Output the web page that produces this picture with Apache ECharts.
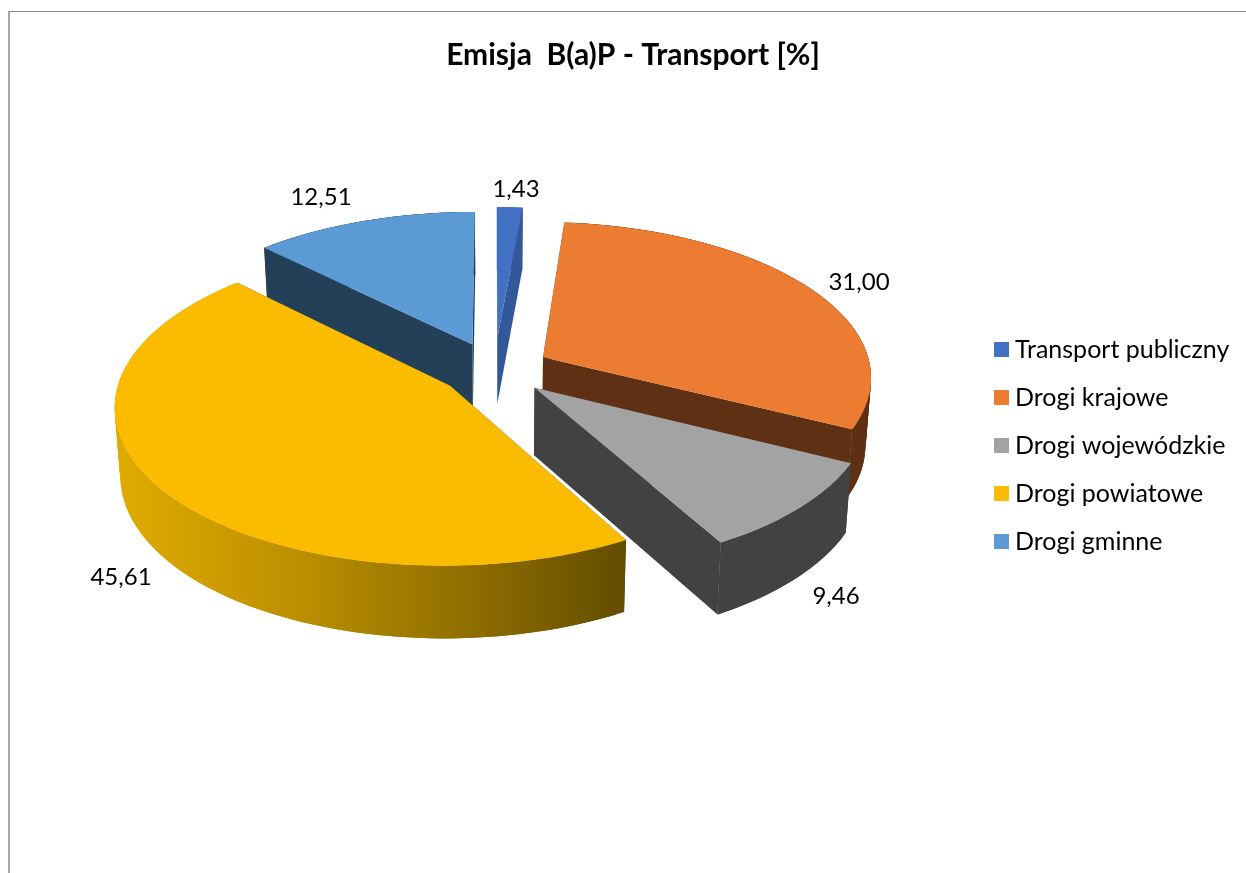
<!DOCTYPE html>
<html><head><meta charset="utf-8">
<style>html,body{margin:0;padding:0;background:#fff}#c{width:1246px;height:873px}</style>
<script src="https://cdn.jsdelivr.net/npm/echarts@6/dist/echarts.min.js"></script>
</head><body><div id="c"></div>
<script>
const categories = ['Transport publiczny','Drogi krajowe','Drogi wojewódzkie','Drogi powiatowe','Drogi gminne'];
const values = [1.43, 31.00, 9.46, 45.61, 12.51];
const valueLabels = ['1,43','31,00','9,46','45,61','12,51'];
const topColors = ['#4270c2','#ec7c31','#a3a3a3','#fbbc00','#5b9ad5'];
const wallColors = ['#33589a','#5f3013','#424242','#424242','#234058'];
const explode = [74, 52, 54, 58, 60];
const nudge = [[-3,2],[1,-1],[-2,0],[0,-1],[-2,0]];
const paintOrder = [1, 3, 4, 5, 2];
const labelPos = [[516,189],[859,282],[836,596],[121,577],[321,197]];

const CX = 497, CY = 370, R = 328, K = 0.47, P = 0.12;
const total = values.reduce((a,b)=>a+b,0);
function slice(i){
  let a0 = 0; for(let j=0;j<i;j++) a0 += values[j]/total*2*Math.PI;
  return [a0, a0 + values[i]/total*2*Math.PI];
}
function project(i, rad, ang, lower){
  const [a0,a1] = slice(i), m = (a0+a1)/2, e = explode[i];
  const wx = e*Math.sin(m) + rad*Math.sin(ang);
  const wv = -e*Math.cos(m) - rad*Math.cos(ang);
  const s = 1/(1 - P*wv/R);
  let x = CX + wx*s + nudge[i][0], y = CY + K*wv*s + nudge[i][1];
  if(lower){ y += 30 + 37*s; x = CX + (x-CX)*0.985; }
  return [x,y];
}
function renderSlice(i){
  const [a0,a1] = slice(i);
  const n = Math.max(6, Math.ceil((a1-a0)*40));
  const arcT = [], arcB = [];
  for(let k=0;k<=n;k++){
    const a = a0+(a1-a0)*k/n;
    arcT.push(project(i,R,a,false)); arcB.push(project(i,R,a,true));
  }
  const apexT = project(i,0,0,false), apexB = project(i,0,0,true);
  const rimFill = i===3 ? {type:'linear',x:116,y:0,x2:623,y2:0,global:true,colorStops:[
      {offset:0,color:'#e0ab00'},{offset:0.35,color:'#bd9000'},{offset:0.7,color:'#8f6e00'},{offset:1,color:'#644d00'}]}
    : wallColors[i];
  const poly = (pts,fill)=>({type:'polygon',shape:{points:pts},style:{fill:fill},silent:true});
  const children = [
    poly([apexT,arcT[0],arcB[0],apexB],wallColors[i]),
    poly([apexT,arcT[n],arcB[n],apexB],wallColors[i])
  ];
  for(let k=0;k<n;k++){
    const j = Math.min(k+2,n);
    children.push(poly([arcT[k],arcT[j],arcB[j],arcB[k]],rimFill));
  }
  children.push(poly([apexT].concat(arcT),topColors[i]));
  children.push({type:'text',style:{text:valueLabels[i],x:labelPos[i][0],y:labelPos[i][1],align:'center',verticalAlign:'middle',
      font:'24px Lato, sans-serif',fill:'#000'},silent:true});
  return {type:'group',children:children};
}
const chart = echarts.init(document.getElementById('c'),null,{renderer:'canvas'});
chart.setOption({
  animation:false,
  backgroundColor:'#fff',
  title:{text:'Emisja  B(a)P - Transport [%]',left:628,top:35,textAlign:'center',
    textStyle:{fontFamily:'Lato',fontWeight:'bold',fontSize:30,color:'#000'}},
  legend:{orient:'vertical',left:989,top:332,itemWidth:15,itemHeight:15,itemGap:23,icon:'rect',selectedMode:false,
    data:categories,textStyle:{fontFamily:'Lato',fontSize:25,color:'#000',padding:[0,0,0,1]}},
  graphic:[
    {type:'line',shape:{x1:9,y1:11.5,x2:1246,y2:11.5},style:{stroke:'#868686',lineWidth:1},silent:true},
    {type:'line',shape:{x1:9,y1:11,x2:9,y2:873},style:{stroke:'#a6a6a6',lineWidth:2},silent:true}
  ],
  series:categories.map((name,i)=>({
    type:'custom',name:name,coordinateSystem:'none',z:paintOrder[i],silent:true,
    itemStyle:{color:topColors[i]},
    data:[[values[i]]],
    renderItem:()=>renderSlice(i)
  }))
});
</script></body></html>
